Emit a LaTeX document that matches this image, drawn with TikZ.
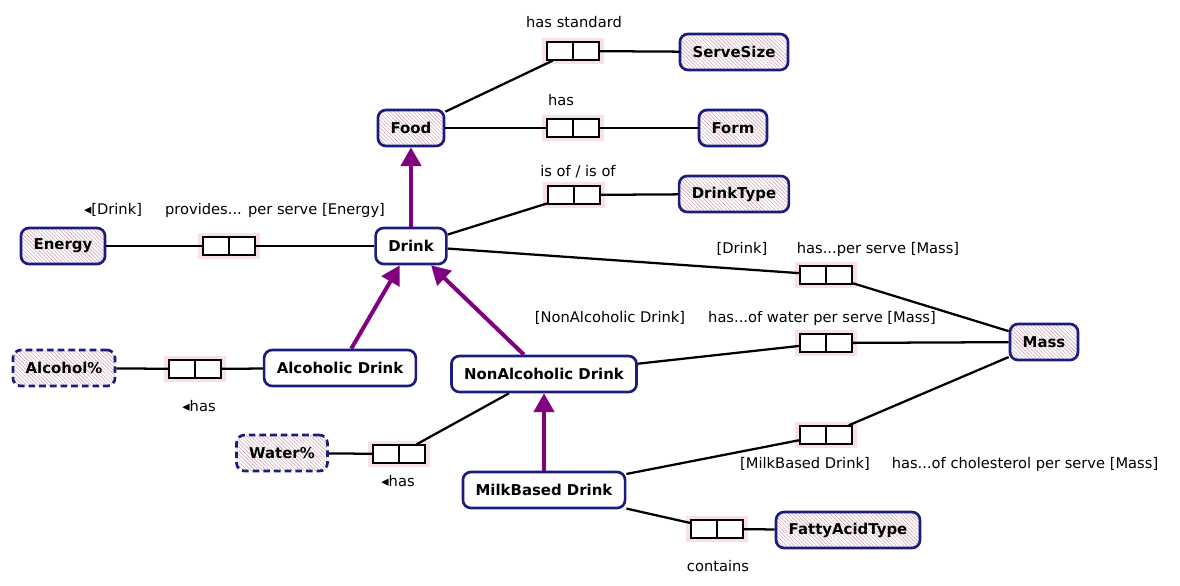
\documentclass[tikz,border=0pt]{standalone}
\usepackage{fontspec}
\setmainfont{DejaVu Sans}
\usetikzlibrary{arrows.meta,patterns.meta}
\definecolor{navyline}{HTML}{1C1C7C}
\definecolor{subpurple}{HTML}{800080}
\definecolor{hatch}{HTML}{D2A9BC}
\definecolor{halo}{HTML}{F7E0E6}

\tikzset{
  box/.style={draw=navyline,line width=2pt,rounded corners=6pt,minimum height=27pt,
    inner xsep=9.5pt,font=\fontsize{11.2}{13}\selectfont\bfseries},
  entity/.style={box,fill=white},
  valuetype/.style={box,preaction={fill=white},
    pattern={Lines[angle=-45,distance=2pt,line width=0.45pt]},pattern color=hatch},
  rolebox/.style={draw,line width=1.6pt,fill=white,minimum width=39pt,minimum height=13pt,
    inner sep=0pt,preaction={draw=halo,line width=7pt},
    path picture={\draw[line width=1.6pt] (path picture bounding box.north)--(path picture bounding box.south);}},
  link/.style={line width=1.7pt},
  subtype/.style={draw=subpurple,line width=3pt,-{Triangle[length=14pt,width=15pt]}},
}

\begin{document}
\begin{tikzpicture}[x=0.75pt,y=-0.75pt,every node/.style={font=\fontsize{11}{13}\selectfont}]
    \useasboundingbox (0,0) rectangle (1180,585);
    % object types
    \node[valuetype] (servesize) at (734,52) {ServeSize};
    \node[valuetype] (food) at (411,128) {Food};
    \node[valuetype] (form) at (733,128) {Form};
    \node[valuetype] (drinktype) at (734,194) {DrinkType};
    \node[valuetype] (energy) at (63,246) {Energy};
    \node[entity] (drink) at (411,246) {Drink};
    \node[valuetype] (mass) at (1044,342) {Mass};
    \node[valuetype,dash pattern=on 5pt off 3pt] (alcohol) at (64,368) {Alcohol\%};
    \node[entity] (alcoholic) at (340,368) {Alcoholic Drink};
    \node[entity] (nonalcoholic) at (544,374) {NonAlcoholic Drink};
    \node[valuetype,dash pattern=on 5pt off 3pt] (water) at (282,453) {Water\%};
    \node[entity] (milkbased) at (544,490) {MilkBased Drink};
    \node[valuetype] (fattyacid) at (848,530) {FattyAcidType};
    % fact types
    \node[rolebox] (hasstandard) at (573,51) {};
    \node[rolebox] (hasform) at (573,128) {};
    \node[rolebox] (isof) at (574,195) {};
    \node[rolebox] (provides) at (229,246) {};
    \node[rolebox] (hasmass) at (826,275) {};
    \node[rolebox] (haswater) at (826,343) {};
    \node[rolebox] (hascholesterol) at (826,435) {};
    \node[rolebox] (hasalcohol) at (195,369) {};
    \node[rolebox] (haswaterpct) at (399,454) {};
    \node[rolebox] (contains) at (717,529) {};
    % readings
    \node (lhasstandard) at (574,22) {has standard};
    \node (lhasform) at (561,100) {has};
    \node (lisof) at (578,172) {is of / is of};
    \node (lprovidesinv) at (113,210) {◂[Drink]};
    \node (lprovides) at (275,210) {provides... per serve [Energy]};
    \node (lhasmassinv) at (742,249) {[Drink]};
    \node (lhasmass) at (878,249) {has...per serve [Mass]};
    \node (lhaswaterinv) at (610,318) {[NonAlcoholic Drink]};
    \node (lhaswater) at (822,318) {has...of water per serve [Mass]};
    \node (lhascholinv) at (805,464) {[MilkBased Drink]};
    \node (lhaschol) at (1025,464) {has...of cholesterol per serve [Mass]};
    \node (lhasalcohol) at (199,406) {◂has};
    \node (lhaswaterpct) at (398,481) {◂has};
    \node (lcontains) at (718,566) {contains};
    % role connectors
    \draw[link] (food)--(hasstandard)--(servesize);
    \draw[link] (food)--(hasform)--(form);
    \draw[link] (drink)--(isof)--(drinktype);
    \draw[link] (energy)--(provides)--(drink);
    \draw[link] (drink)--(hasmass)--(mass);
    \draw[link] (nonalcoholic)--(haswater)--(mass);
    \draw[link] (milkbased)--(hascholesterol)--(mass);
    \draw[link] (alcohol)--(hasalcohol)--(alcoholic);
    \draw[link] (water)--(haswaterpct)--(nonalcoholic);
    \draw[link] (milkbased)--(contains)--(fattyacid);
    % subtypes
    \draw[subtype] (drink)--(food);
    \draw[subtype] (alcoholic)--(drink);
    \draw[subtype] (nonalcoholic)--(drink);
    \draw[subtype] (milkbased)--(nonalcoholic);
\end{tikzpicture}
\end{document}
